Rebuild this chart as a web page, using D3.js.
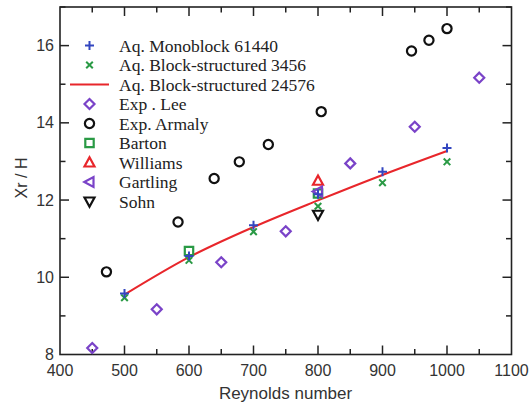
<!DOCTYPE html>
<html>
<head>
<meta charset="utf-8">
<script src="https://cdn.jsdelivr.net/npm/d3@7"></script>
<style>
  html, body { margin: 0; padding: 0; background: #fff; }
  svg { display: block; }
</style>
</head>
<body>
<svg id="chart" width="530" height="405"></svg>
<script>
// Reattachment length Xr/H versus Reynolds number for a backward-facing step
const xTicks = [400, 500, 600, 700, 800, 900, 1000, 1100];
const yTicks = [8, 10, 12, 14, 16];

const reAq = [500, 600, 700, 800, 900, 1000];
const monoblock61440 = [9.58, 10.55, 11.35, 12.15, 12.73, 13.35];
const block3456 = [9.47, 10.44, 11.18, 11.84, 12.45, 12.99];
const block24576 = [9.55, 10.52, 11.30, 11.99, 12.65, 13.27];

const reLee = [450, 550, 650, 750, 850, 950, 1050];
const expLee = [8.17, 9.17, 10.39, 11.19, 12.95, 13.90, 15.17];

const reArmaly = [472, 583, 639, 678, 723, 805, 945, 972, 1000];
const expArmaly = [10.14, 11.43, 12.56, 12.99, 13.44, 14.29, 15.86, 16.14, 16.44];

const reBarton = [600, 800];
const barton = [10.68, 12.17];
const reWilliams = [800];
const williams = [12.50];
const reGartling = [800];
const gartling = [12.22];
const reSohn = [800];
const sohn = [11.62];

const svg = d3.select("#chart");
const margin = { left: 60, top: 7, right: 530 - 511.5, bottom: 405 - 354.5 };
const W = 530, H = 405;

const x = d3.scaleLinear().domain([400, 1100]).range([margin.left, W - margin.right]);
const y = d3.scaleLinear().domain([8, 17]).range([H - margin.bottom, margin.top]);

const axisColor = "#222";
const tickFont = "'Liberation Sans', Arial, Helvetica, sans-serif";
const serif = "'Liberation Serif', 'Times New Roman', serif";

// marker shapes, drawn as outlines centred on (0,0)
const shapes = {
  plus: "M-4.5,0H4.5M0,-4.5V4.5",
  cross: "M-3.3,-3.3L3.3,3.3M-3.3,3.3L3.3,-3.3",
  diamond: "M0,-5L5,0L0,5L-5,0Z",
  circle: d3.arc()({ innerRadius: 0, outerRadius: 4.6, startAngle: 0, endAngle: 2 * Math.PI }),
  square: "M-4.2,-4.2H4.2V4.2H-4.2Z",
  triUp: "M0,-5.2L5,4H-5Z",
  triLeft: "M-5.2,0L4,-5V5Z",
  triDown: "M0,5.2L5,-4H-5Z"
};

// axes with inward ticks on all four sides
const g = svg.append("g");
const xMinor = d3.range(400, 1101, 50).filter(v => v % 100 !== 0);
const yMinor = d3.range(9, 17.1, 2);
const yMajor = d3.range(8, 17.1, 2);

function tickLines(vals, len, horizontal) {
  vals.forEach(v => {
    if (horizontal) {
      const px = x(v);
      g.append("line").attr("x1", px).attr("x2", px).attr("y1", y(8)).attr("y2", y(8) - len);
      g.append("line").attr("x1", px).attr("x2", px).attr("y1", y(17)).attr("y2", y(17) + len);
    } else {
      const py = y(v);
      g.append("line").attr("x1", x(400)).attr("x2", x(400) + len).attr("y1", py).attr("y2", py);
      g.append("line").attr("x1", x(1100)).attr("x2", x(1100) - len).attr("y1", py).attr("y2", py);
    }
  });
}
tickLines(xTicks.slice(1, -1), 9, true);
tickLines(xMinor, 5.5, true);
tickLines(yMajor.slice(1), 9, false);
tickLines(yMinor, 5.5, false);
g.selectAll("line").attr("stroke", axisColor).attr("stroke-width", 1.5);

g.append("rect")
  .attr("x", x(400)).attr("y", y(17))
  .attr("width", x(1100) - x(400)).attr("height", y(8) - y(17))
  .attr("fill", "none").attr("stroke", axisColor).attr("stroke-width", 1.6);

// tick labels
svg.append("g").selectAll("text").data(xTicks).join("text")
  .attr("x", d => x(d)).attr("y", 375.5)
  .attr("text-anchor", "middle")
  .attr("font-family", tickFont).attr("font-size", 16).attr("fill", "#333")
  .text(d => d);

svg.append("g").selectAll("text").data(yTicks).join("text")
  .attr("x", 54).attr("y", d => d === 8 ? y(d) + 5 : y(d) + 5.5)
  .attr("text-anchor", "end")
  .attr("font-family", tickFont).attr("font-size", 16).attr("fill", "#333")
  .text(d => d);

// axis titles
svg.append("text")
  .attr("x", 285.5).attr("y", 399)
  .attr("text-anchor", "middle")
  .attr("font-family", tickFont).attr("font-size", 17).attr("fill", "#333")
  .text("Reynolds number");

svg.append("text")
  .attr("transform", "translate(27,178) rotate(-90)")
  .attr("text-anchor", "middle")
  .attr("font-family", tickFont).attr("font-size", 16).attr("fill", "#333")
  .text("Xr / H");

// simulation curve
const line = d3.line().x((d, i) => x(reAq[i])).y(d => y(d)).curve(d3.curveMonotoneX);
svg.append("path").datum(block24576)
  .attr("d", line).attr("fill", "none")
  .attr("stroke", "#e8262b").attr("stroke-width", 2);

// scatter series
const series = [
  { name: "Exp. Armaly", xs: reArmaly, ys: expArmaly, shape: "circle", color: "#111" },
  { name: "Exp . Lee", xs: reLee, ys: expLee, shape: "diamond", color: "#7a43c8" },
  { name: "Barton", xs: reBarton, ys: barton, shape: "square", color: "#2a9a45" },
  { name: "Williams", xs: reWilliams, ys: williams, shape: "triUp", color: "#e8262b" },
  { name: "Gartling", xs: reGartling, ys: gartling, shape: "triLeft", color: "#7a43c8" },
  { name: "Sohn", xs: reSohn, ys: sohn, shape: "triDown", color: "#111" },
  { name: "Aq. Block-structured 3456", xs: reAq, ys: block3456, shape: "cross", color: "#2a9a45" },
  { name: "Aq. Monoblock 61440", xs: reAq, ys: monoblock61440, shape: "plus", color: "#3346c0" }
];

series.forEach(s => {
  svg.append("g").selectAll("path").data(s.ys).join("path")
    .attr("transform", (d, i) => `translate(${x(s.xs[i])},${y(d)})`)
    .attr("d", shapes[s.shape])
    .attr("fill", "none").attr("stroke", s.color)
    .attr("stroke-width", s.shape === "plus" || s.shape === "cross" ? 2 : 2.2);
});

// legend
const legendItems = [
  { label: "Aq. Monoblock 61440", shape: "plus", color: "#3346c0" },
  { label: "Aq. Block-structured 3456", shape: "cross", color: "#2a9a45" },
  { label: "Aq. Block-structured 24576", shape: "line", color: "#e8262b" },
  { label: "Exp . Lee", shape: "diamond", color: "#7a43c8" },
  { label: "Exp. Armaly", shape: "circle", color: "#111" },
  { label: "Barton", shape: "square", color: "#2a9a45" },
  { label: "Williams", shape: "triUp", color: "#e8262b" },
  { label: "Gartling", shape: "triLeft", color: "#7a43c8" },
  { label: "Sohn", shape: "triDown", color: "#111" }
];
const legend = svg.append("g");
legendItems.forEach((it, i) => {
  const cy = 45.5 + i * 19.5;
  if (it.shape === "line") {
    legend.append("line").attr("x1", 70).attr("x2", 109).attr("y1", cy).attr("y2", cy)
      .attr("stroke", it.color).attr("stroke-width", 2);
  } else {
    legend.append("path").attr("transform", `translate(89.5,${cy})`)
      .attr("d", shapes[it.shape]).attr("fill", "none").attr("stroke", it.color)
      .attr("stroke-width", it.shape === "plus" || it.shape === "cross" ? 2 : 2.2);
  }
  legend.append("text").attr("x", 119).attr("y", cy + 6)
    .attr("font-family", serif).attr("font-size", 17.5).attr("fill", "#222")
    .text(it.label);
});
</script>
</body>
</html>
